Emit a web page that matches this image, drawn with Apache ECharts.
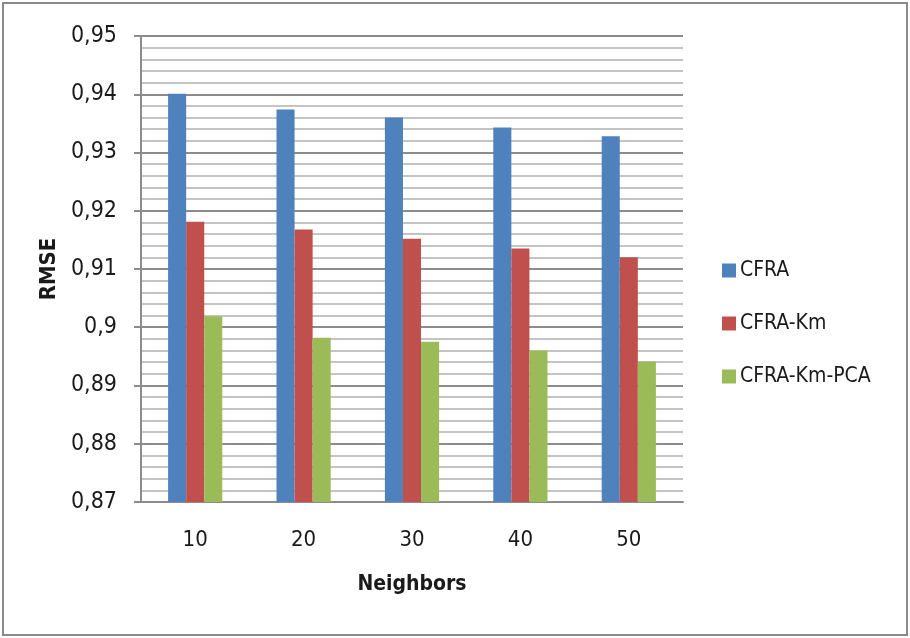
<!DOCTYPE html>
<html>
<head>
<meta charset="utf-8">
<script src="https://cdn.jsdelivr.net/npm/echarts@6/dist/echarts.min.js"></script>
<style>
  html, body { margin: 0; padding: 0; background: #fff; }
  #chart { width: 910px; height: 638px; }
</style>
</head>
<body>
<div id="chart"></div>
<script>
// Neighbourhood sizes on the x axis
const neighbors = ['10', '20', '30', '40', '50'];

// RMSE per method
const cfra = [0.9401, 0.9374, 0.9360, 0.9343, 0.9328];
const cfraKm = [0.9181, 0.9168, 0.9152, 0.9135, 0.9120];
const cfraKmPca = [0.9019, 0.8982, 0.8975, 0.8960, 0.8941];

const seriesNames = ['CFRA', 'CFRA-Km', 'CFRA-Km-PCA'];
const seriesColors = ['#4F81BD', '#C0504D', '#9BBB59'];

const font = "'DejaVu Sans Condensed', 'Open Sans', sans-serif";

const chart = echarts.init(document.getElementById('chart'), null, { renderer: 'canvas' });

const makeBar = (name, data, color) => ({
  name: name,
  type: 'bar',
  data: data,
  barGap: '0%',
  barCategoryGap: '50%',
  itemStyle: { color: color },
  emphasis: { disabled: true }
});

chart.setOption({
  animation: false,
  backgroundColor: '#fff',
  textStyle: { fontFamily: font },
  graphic: [{
    type: 'rect',
    shape: { x: 3, y: 3, width: 904, height: 632 },
    style: { fill: 'none', stroke: '#8a8a8a', lineWidth: 2 },
    silent: true
  }],
  grid: { left: 141, right: 227, top: 36, bottom: 136 },
  legend: {
    orient: 'vertical',
    left: 717,
    top: 255,
    itemWidth: 14,
    itemHeight: 14,
    itemGap: 32,
    icon: 'rect',
    textStyle: { fontSize: 21, color: '#1a1a1a', fontFamily: font, padding: [0, 0, 0, -1] },
    data: seriesNames
  },
  xAxis: {
    type: 'category',
    data: neighbors,
    name: 'Neighbors',
    nameLocation: 'middle',
    nameGap: 72,
    nameTextStyle: { fontSize: 21, fontWeight: 'bold', color: '#1a1a1a', fontFamily: font, verticalAlign: 'top' },
    axisLine: { lineStyle: { color: '#8c8c8c', width: 2 } },
    axisTick: { show: false },
    axisLabel: { fontSize: 22, color: '#1a1a1a', margin: 27 }
  },
  yAxis: {
    type: 'value',
    min: 0.87,
    max: 0.95,
    interval: 0.01,
    name: 'RMSE',
    nameLocation: 'middle',
    nameGap: 77,
    nameRotate: 90,
    nameTextStyle: { fontSize: 22, fontWeight: 'bold', color: '#1a1a1a', fontFamily: font },
    axisLine: { show: true, lineStyle: { color: '#8c8c8c', width: 2 } },
    axisTick: { show: true, length: 7, lineStyle: { color: '#8c8c8c', width: 2 } },
    axisLabel: {
      fontSize: 23,
      color: '#1a1a1a',
      margin: 24,
      formatter: v => String(Math.round(v * 100) / 100).replace('.', ',')
    },
    splitLine: { lineStyle: { color: '#8c8c8c', width: 2 } },
    minorTick: { show: false, splitNumber: 5 },
    minorSplitLine: { show: true, lineStyle: { color: '#c4c4c4', width: 2 } }
  },
  series: [
    makeBar(seriesNames[0], cfra, seriesColors[0]),
    makeBar(seriesNames[1], cfraKm, seriesColors[1]),
    makeBar(seriesNames[2], cfraKmPca, seriesColors[2])
  ]
});
</script>
</body>
</html>
